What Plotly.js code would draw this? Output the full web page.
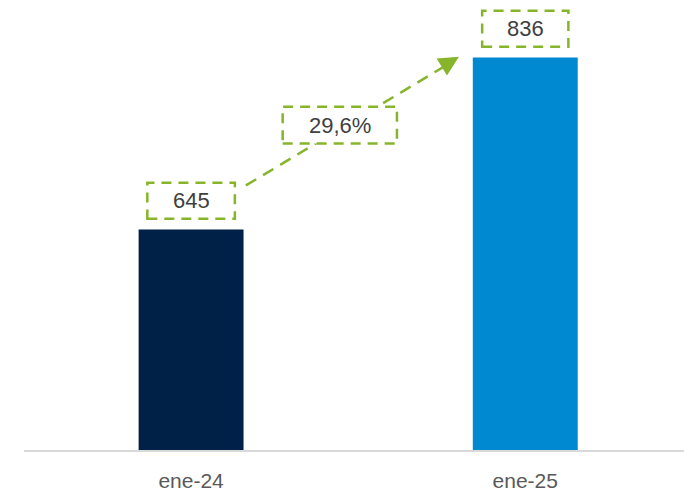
<!DOCTYPE html>
<html>
<head>
<meta charset="utf-8">
<script src="https://cdn.plot.ly/plotly-3.0.1.min.js"></script>
<style>html,body{margin:0;padding:0;background:#fff;}#chart{width:684px;height:494px;}</style>
</head>
<body>
<div id="chart"></div>
<script>
const categories = ["ene-24", "ene-25"];
const values = [645, 836];
const barColors = ["#002147", "#0088D1"];

const green = "#86B52B";
const growth = (values[1] / values[0] - 1) * 100;
const growthText = growth.toFixed(1).replace(".", ",") + "%";

const trace = {
  type: "bar",
  x: categories,
  y: values,
  width: 0.314,
  marker: {color: barColors},
  hoverinfo: "none"
};

const boxHalf = [0.131, 0.129];
const shapes = [];
// dashed arrow line (from above first bar label to second bar label)
shapes.push({
  type: "line", xref: "x", yref: "y",
  x0: 0.164, y0: values[0] + 49,
  x1: 0.775, y1: values[1] - 6,
  line: {color: green, width: 2.5, dash: "12px,8px"}
});
// value label boxes
values.forEach((v, i) => {
  shapes.push({
    type: "rect", xref: "x", yref: "y",
    x0: i - boxHalf[i], x1: i + boxHalf[i],
    y0: v + 12, y1: v + 52,
    fillcolor: "#ffffff",
    line: {color: green, width: 2.5, dash: "10px,7px"}
  });
});
// growth box
shapes.push({
  type: "rect", xref: "x", yref: "y",
  x0: 0.274, x1: 0.616, y0: 740.5, y1: 781.5,
  fillcolor: "#ffffff",
  line: {color: green, width: 2.5, dash: "10px,7px"}
});

const labelFont = {family: "Arial, Liberation Sans, sans-serif", size: 22, color: "#404040"};
const annotations = values.map((v, i) => ({
  x: i, y: v + 32, xref: "x", yref: "y",
  text: String(v), showarrow: false,
  font: labelFont
}));
annotations.push({
  x: 0.445, y: 761, xref: "x", yref: "y",
  text: growthText, showarrow: false,
  font: labelFont
});
// arrowhead
annotations.push({
  x: 0.8015, y: values[1] + 1, xref: "x", yref: "y",
  ax: 0.757, ay: values[1] - 9, axref: "x", ayref: "y",
  text: "", showarrow: true, arrowhead: 2, arrowsize: 1.6, arrowwidth: 2.5,
  arrowcolor: green, standoff: 0
});

const layout = {
  width: 684, height: 494,
  margin: {l: 24, r: 0, t: 0, b: 44, pad: 0},
  paper_bgcolor: "#ffffff", plot_bgcolor: "#ffffff",
  showlegend: false,
  xaxis: {
    type: "category",
    range: [-0.5, 1.475],
    showline: true, linecolor: "#D9D9D9", linewidth: 1.5,
    ticks: "", showgrid: false, zeroline: false,
    tickfont: {family: "Arial, Liberation Sans, sans-serif", size: 21, color: "#595959"},
    ticklabelstandoff: 11
  },
  yaxis: {
    range: [400, 900],
    visible: false, showgrid: false, zeroline: false
  },
  shapes: shapes,
  annotations: annotations
};

Plotly.newPlot("chart", [trace], layout, {displayModeBar: false, staticPlot: true});
</script>
</body>
</html>
